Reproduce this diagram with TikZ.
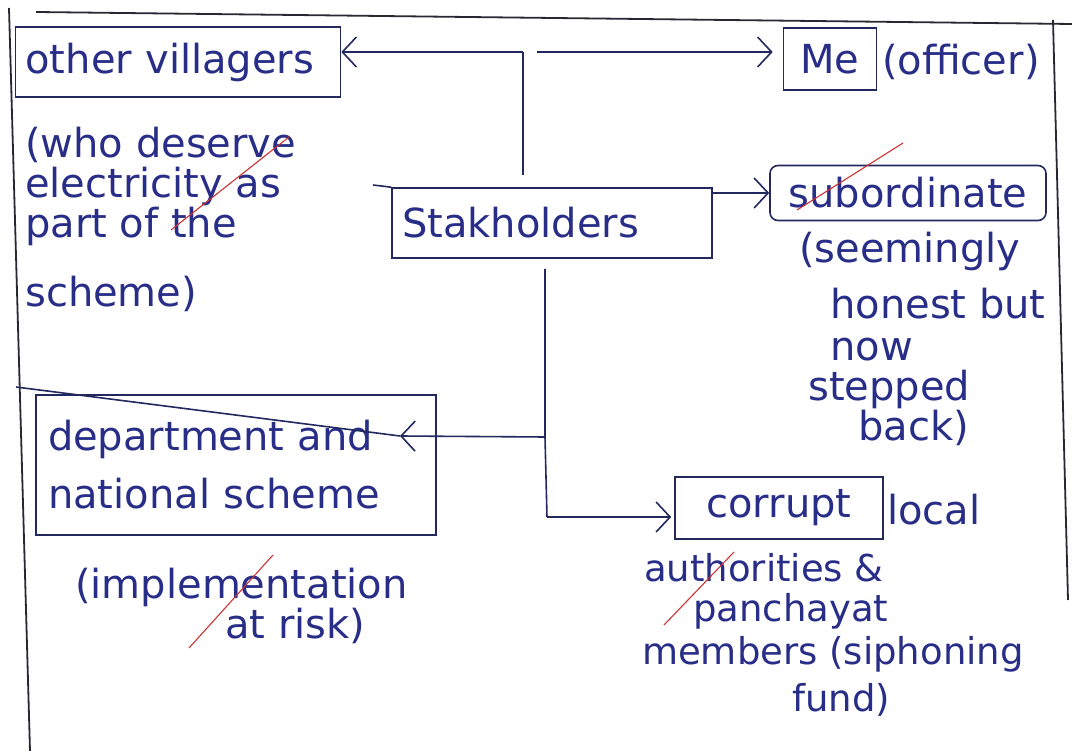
\documentclass[tikz,border=0pt]{standalone}
\usepackage{fontspec}
\setmainfont{DejaVu Sans}
\usepackage{tikz}
\usetikzlibrary{arrows.meta}

\definecolor{inkblue}{RGB}{40,45,135}
\definecolor{inkline}{RGB}{35,40,95}
\definecolor{framegray}{RGB}{40,40,50}
\definecolor{redpen}{RGB}{205,50,50}

\tikzset{
	hand/.style={text=inkblue, inner sep=0pt, align=left, font=\fontsize{40}{40}\selectfont},
	pbox/.style={hand, draw=inkline, line width=1.6pt, align=center},
	con/.style={draw=inkline, line width=1.6pt},
	tip/.style={-{Straight Barb[length=14pt,width=30pt,line width=1.6pt]}},
	frame/.style={draw=framegray, line width=1.8pt},
	strike/.style={draw=redpen, line width=1.1pt}
}

\begin{document}
\begin{tikzpicture}[x=1pt, y=-1pt]
	\useasboundingbox (0,0) rectangle (1072,751);
	\draw[frame] (36,12) -- (1072,24);
	\draw[frame] (9,8) -- (30,751);
	\draw[frame] (1053,20) -- (1068,600);

	\node[pbox, text width=305pt, inner xsep=10pt, align=left, minimum height=70pt] (villagers) at (178,62) {other villagers};
	\node[pbox, minimum width=93pt, minimum height=62pt] (me) at (830,59) {Me};
	\node[pbox, text width=300pt, inner xsep=10pt, align=left, minimum height=70pt] (stake) at (552,223) {Stakholders};
	\node[pbox, minimum width=276pt, minimum height=55pt, rounded corners=8pt] (sub) at (908,193) {subordinate};
	\node[pbox, minimum width=208pt, minimum height=62pt] (corrupt) at (779,508) {corrupt};
	\node[pbox, text width=376pt, inner xsep=12pt, align=left, minimum height=140pt] (dept) at (236,465) {department and\\[18pt]national scheme};

	\node[hand, anchor=north west] (villnote) at (25,127) {(who deserve\\electricity as\\part of the\\[29pt]scheme)};
	\node[hand, anchor=base west] (officer) at (882,75) {(officer)};
	\node[hand, anchor=north west] (subnote) at (799,232) {(seemingly\\[16pt]\hspace*{31pt}honest but\\[2pt]\hspace*{31pt}now\\\hspace*{9pt}stepped\\\hspace*{59pt}back)};
	\node[hand, anchor=base west] (local) at (887,525) {local};
	\node[hand, anchor=north west, font=\fontsize{37}{40}\selectfont] (corrnote) at (644,553) {authorities \&\\\hspace*{49pt}panchayat\\[3pt]\hspace*{-2pt}members (siphoning\\[7pt]\hspace*{148pt}fund)};
	\node[hand, anchor=north west] (deptnote) at (75,568) {(implementation\\\hspace*{150pt}at risk)};

	\coordinate (jtop) at (523,52);
	\coordinate (stakeleft) at (373,185);
	\coordinate (jmid) at (545,437);
	\coordinate (jbot) at (547,517);
	\coordinate (depttip) at (400,436);
	\coordinate (deptleft) at (16,387);

	\draw[con] (jtop) -- ([yshift=12pt]stake.north -| jtop);
	\draw[con, tip] (jtop) -- (jtop -| villagers.east);
	\draw[con, tip] ([xshift=14pt]jtop) -- ([xshift=-10pt]jtop -| me.west);
	\draw[con] (stakeleft) -- (stake.north west);
	\draw[con, tip] (sub.west -| stake.east) -- (sub.west);
	\draw[con] ([yshift=-10pt]stake.south -| jmid) -- (jmid) -- (jbot);
	\draw[con, tip] (jbot) -- ([xshift=-3pt]jbot -| corrupt.west);
	\draw[con, tip] (jmid) -- (depttip);
	\draw[con] (deptleft) -- (depttip);

	\draw[strike] (171,230) -- (289,137);
	\draw[strike] (797,210) -- (903,143);
	\draw[strike] (664,625) -- (734,552);
	\draw[strike] (189,648) -- (273,555);
\end{tikzpicture}
\end{document}
